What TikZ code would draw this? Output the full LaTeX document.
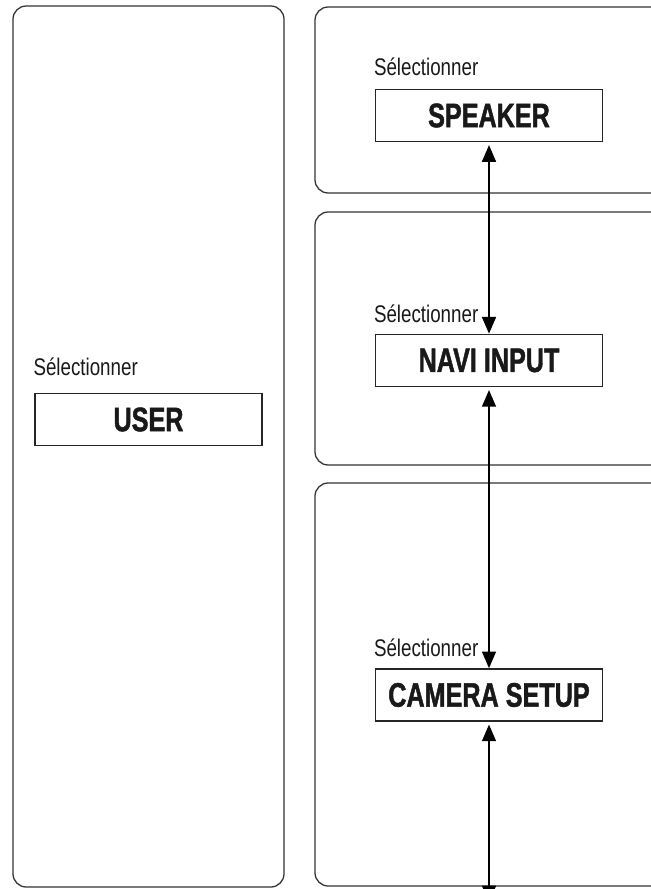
\documentclass[tikz,border=0pt]{standalone}
\usepackage{fontspec}
\usepackage{tikz}
\usetikzlibrary{arrows.meta, positioning}
\newfontfamily\selfont[FakeStretch=0.78]{Liberation Sans}
\newfontfamily\keyfont[FakeStretch=0.74, BoldFeatures={FakeBold=1.3}]{Liberation Sans}

\begin{document}
\begin{tikzpicture}[
    x=0.025cm, y=-0.025cm,
    panel/.style={draw=black!80, line width=0.9pt, rounded corners=0.33cm},
    key/.style={rectangle, draw=black!85, line width=0.9pt, minimum width=5.67cm, minimum height=1.3cm, inner sep=0pt, font={\keyfont\bfseries\fontsize{24.2}{28}\selectfont}, text=black!90},
    sel/.style={inner sep=0pt, font={\selfont\fontsize{17.1}{20}\selectfont}, text=black!90},
    arrow/.style={{Triangle[length=4.2mm, width=3.4mm]}-{Triangle[length=4.2mm, width=3.4mm]}, line width=1.9pt, shorten <=2pt}
]
\useasboundingbox (0,0) rectangle (651,889);
\clip (0,0) rectangle (651,889);
\draw[panel] (13,6) rectangle (284,887);
\draw[panel] (315,7) rectangle (700,193);
\draw[panel] (315,212) rectangle (700,465);
\draw[panel] (315,483) rectangle (700,886);
\node[key] (user) at (148.5,419.5) {USER};
\node[key] (speaker) at (489,115.5) {SPEAKER};
\node[key, below=4.79cm of speaker] (navi) {NAVI INPUT};
\node[key, below=7.03cm of navi] (camera) {CAMERA SETUP};
\node[sel, above right=0.43cm and -0.03cm of user.north west] (sel_user) {Sélectionner};
\node[sel, above right=0.31cm and -0.03cm of speaker.north west] (sel_speaker) {Sélectionner};
\node[sel, above right=0.28cm and -0.03cm of navi.north west] (sel_navi) {Sélectionner};
\node[sel, above right=0.28cm and -0.03cm of camera.north west] (sel_camera) {Sélectionner};
\coordinate[below=4.52cm of camera.south] (exit);
\draw[arrow] (speaker.south) -- (navi.north);
\draw[arrow] (navi.south) -- (camera.north);
\draw[arrow] (camera.south) -- (exit);
\end{tikzpicture}
\end{document}
